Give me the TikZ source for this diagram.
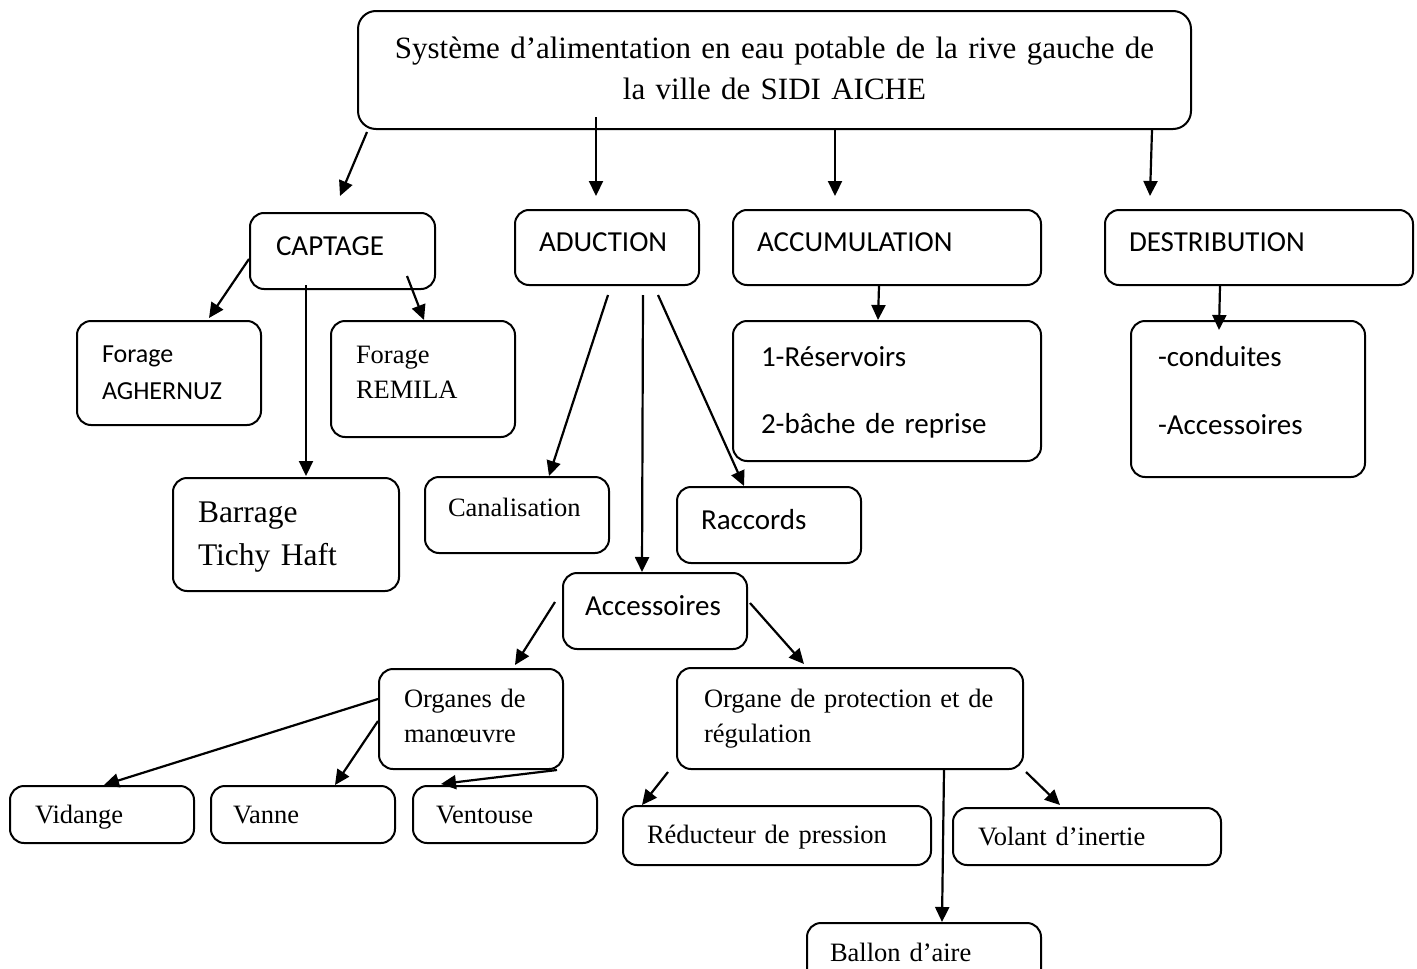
\documentclass[tikz,border=0pt]{standalone}
\usepackage{fontspec}
\setmainfont{Liberation Serif}
\newfontfamily\calibri{Carlito}
\usetikzlibrary{arrows.meta,calc}

\begin{document}
\begin{tikzpicture}[x=1pt,y=-1pt,
 box/.style={draw,line width=2pt,rounded corners=14pt,anchor=north west,inner ysep=0pt,align=left},
 sans/.style={font=\calibri\fontsize{29}{36}\selectfont},
 serif/.style={font=\fontsize{26.5}{35}\selectfont},
 link/.style={-{Triangle[length=15pt,width=14pt]},line width=2.2pt}]
\path[use as bounding box] (0,0) rectangle (1417,969);
% top level
\node[box,rounded corners=18pt,font=\fontsize{31}{41}\selectfont,align=center,text width=793pt,inner xsep=20pt,text height=47pt,text depth=71pt] (top) at (357,10)
 {Système d’alimentation en eau potable de la rive gauche de\\la ville de SIDI AICHE};
\node[box,sans,text width=133pt,inner xsep=26pt,text height=42pt,text depth=34pt] (captage) at (249,212) {CAPTAGE};
\node[box,sans,text width=136pt,inner xsep=24pt,text height=41pt,text depth=34pt] (aduction) at (514,209) {ADUCTION};
\node[box,sans,text width=260pt,inner xsep=24pt,text height=41pt,text depth=34pt] (accumulation) at (732,209) {ACCUMULATION};
\node[box,sans,text width=260pt,inner xsep=24pt,text height=41pt,text depth=34pt] (destribution) at (1104,209) {DESTRIBUTION};
% captage
\node[box,font=\calibri\fontsize{26}{37}\selectfont,text width=134pt,inner xsep=25pt,text height=41pt,text depth=63pt] (aghernuz) at (76,320) {Forage\\AGHERNUZ};
\node[box,serif,text width=134pt,inner xsep=25pt,text height=42pt,text depth=74pt] (remila) at (330,320) {Forage\\REMILA};
\node[box,font=\fontsize{31.5}{43}\selectfont,text width=176pt,inner xsep=25pt,text height=44pt,text depth=69pt] (barrage) at (172,477) {Barrage\\Tichy Haft};
% aduction
\node[box,serif,text width=138pt,inner xsep=23pt,text height=39pt,text depth=37pt] (canalisation) at (424,476) {Canalisation};
\node[box,sans,text width=136pt,inner xsep=24pt,text height=42pt,text depth=34pt] (raccords) at (676,486) {Raccords};
\node[box,sans,text width=140pt,inner xsep=22pt,text height=42pt,text depth=34pt] (accessoires) at (562,572) {Accessoires};
% accumulation, distribution
\node[box,font=\calibri\fontsize{29}{67}\selectfont,text width=252pt,inner xsep=28pt,text height=45pt,text depth=95pt] (reservoirs) at (732,320) {1-Réservoirs\\2-bâche de reprise};
\node[box,font=\calibri\fontsize{29}{68}\selectfont,text width=180pt,inner xsep=27pt,text height=45pt,text depth=111pt] (conduites) at (1130,320) {-conduites\\-Accessoires};
% accessoires
\node[box,serif,text width=134pt,inner xsep=25pt,text height=38pt,text depth=62pt] (manoeuvre) at (378,668) {Organes de\\manœuvre};
\node[box,serif,text width=292pt,inner xsep=27pt,text height=39pt,text depth=62pt] (protection) at (676,667) {Organe de protection et de\\régulation};
\node[box,serif,text width=134pt,inner xsep=25pt,text height=37pt,text depth=20pt] (vidange) at (9,785) {Vidange};
\node[box,serif,text width=140pt,inner xsep=22pt,text height=37pt,text depth=20pt] (vanne) at (210,785) {Vanne};
\node[box,serif,text width=138pt,inner xsep=23pt,text height=37pt,text depth=20pt] (ventouse) at (412,785) {Ventouse};
\node[box,serif,text width=260pt,inner xsep=24pt,text height=37pt,text depth=22pt] (reducteur) at (622,805) {Réducteur de pression};
\node[box,serif,text width=218pt,inner xsep=25pt,text height=37pt,text depth=20pt] (volant) at (952,807) {Volant d’inertie};
\node[box,serif,text width=188pt,inner xsep=23pt,text height=38pt,text depth=22pt] (ballon) at (806,922) {Ballon d’aire};
% arrows
\draw[link] ($(top.south west)+(10,2)$) -- ($(captage.north)+(-2.5,-16)$);
\draw[link] ($(top.south west)+(239,-13)$) -- ($(aduction.north west)+(82,-13)$);
\draw[link] ($(top.south west)+(478,0)$) -- ($(accumulation.north west)+(103,-13)$);
\draw[link] ($(top.south east)+(-40,0)$) -- ($(destribution.north west)+(46,-13)$);
\draw[link] ($(captage.west)+(0,8)$) -- ($(aghernuz.north west)+(133,-2)$);
\draw[link] ($(captage.south east)+(-29,-14)$) -- ($(remila.north west)+(94,0)$);
\draw[link] ($(captage.south west)+(57,-5)$) -- ($(barrage.north west)+(134,-1)$);
\draw[link] ($(aduction.south)+(1,9)$) -- ($(canalisation.north west)+(125,0)$);
\draw[link] ($(aduction.south)+(36,9)$) -- ($(accessoires.north west)+(80,0)$);
\draw[link] ($(aduction.south)+(51,9)$) -- ($(raccords.north west)+(68,0)$);
\draw[link] ($(accumulation.south)+(-8,0)$) -- ($(reservoirs.north west)+(146,0)$);
\draw[link] ($(destribution.south)+(-39,0)$) -- ($(conduites.north west)+(89,10)$);
\draw[link] ($(accessoires.west)+(-7,-9)$) -- ($(manoeuvre.north west)+(137,-3)$);
\draw[link] ($(accessoires.east)+(2,-8)$) -- ($(protection.north west)+(128,-3)$);
\draw[link] ($(manoeuvre.west)+(0,-20)$) -- ($(vidange.north west)+(95,0)$);
\draw[link] ($(manoeuvre.west)+(0,2)$) -- ($(vanne.north west)+(125,0)$);
\draw[link] ($(manoeuvre.south east)+(-7,0)$) -- ($(ventouse.north west)+(29,-1)$);
\draw[link] ($(protection.south west)+(-8,2)$) -- ($(reducteur.north west)+(20,0)$);
\draw[link] ($(protection.south east)+(-80,0)$) -- ($(ballon.north west)+(136,0)$);
\draw[link] ($(protection.south east)+(2,2)$) -- ($(volant.north west)+(108,-2)$);
\end{tikzpicture}
\end{document}
